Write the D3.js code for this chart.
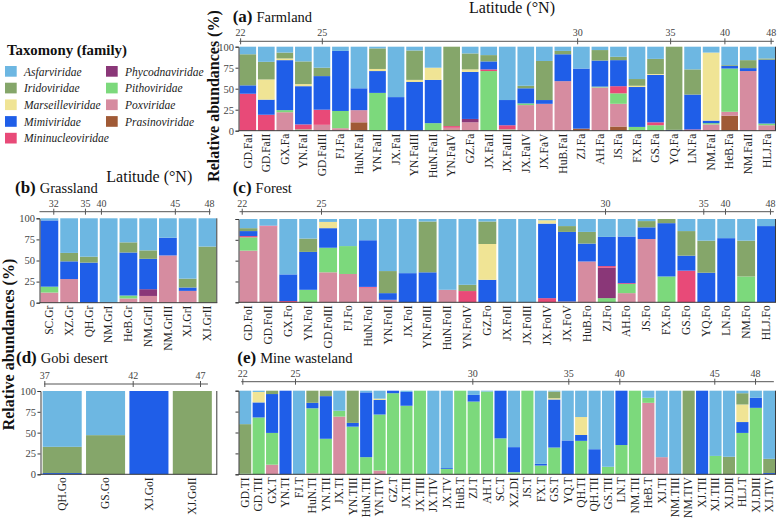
<!DOCTYPE html>
<html><head><meta charset="utf-8">
<script src="https://cdn.jsdelivr.net/npm/d3@7/dist/d3.min.js"></script>
<style>
body{margin:0;background:#fff}
svg{display:block}
text{font-family:"Liberation Serif","Times New Roman",serif}
</style>
</head><body>
<svg id="chart" width="777" height="518"></svg>
<script>
// ---------------- DATA ----------------
const legendFamilies = ["Asfarviridae","Iridoviridae","Marseilleviridae","Mimiviridae","Mininucleoviridae",
  "Phycodnaviridae","Pithoviridae","Poxviridae","Prasinoviridae"];
// stacking order, bottom -> top (value columns below follow this order)
const stackFamilies = ["Prasinoviridae","Poxviridae","Pithoviridae","Phycodnaviridae","Mininucleoviridae",
  "Mimiviridae","Marseilleviridae","Iridoviridae","Asfarviridae"];
const familyColors = ["#6db7e2","#85a66a","#f0e495","#1f5ee8","#e84a78","#8a3778","#7cd97c","#d68ca0","#a05a36"];

const yTicks = [0,25,50,75,100];

const farmlandSamples = ["GD.FaI","GD.FaII","GX.Fa","YN.FaI","GD.FaIII","FJ.Fa","HuN.FaI","YN.FaII","JX.FaI","YN.FaIII",
  "HuN.FaII","YN.FaIV","GZ.Fa","JX.FaII","JX.FaIII","JX.FaIV","JX.FaV","HuB.FaI","ZJ.Fa","AH.Fa","JS.Fa","FX.Fa",
  "GS.Fa","YQ.Fa","LN.Fa","NM.FaI","HeB.Fa","NM.FaII","HLJ.Fa"];
const farmlandValues = [
  [0,0,0,0,44,10,0,37,9],[0,0,0,0,19,18,24,21,18],[0,22,2.5,0,0,59.5,2,7,7],[0,0,1.5,0,6,45.5,2.5,27,17.5],
  [0,7,0,0,18,40,0,10,25],[0,3,20.5,0,0,71.5,0,0,5],[10,14.5,0,0,0,26,0,0,49.5],[0,0,45,0,0,26,2.5,24.5,2],
  [0,0,0,0,0,40,0,0,60],[0,0,0,0,0,58,2.5,35,4.5],[0,0,9,0,0,51.5,14.5,0,25],[1.5,2,0,0,2,0,0,94.5,0],
  [0,10,0,4,0,56,3,19,8],[0,0,71,0,2,9.5,0,7.5,10],[0,0,1.5,0,5,30,0,0,63.5],[0,30.5,2,0,0,18,0,3,46.5],
  [0,32,0,0,0,4.5,0,46.5,17],[0,59,0,0,0,32,0,4,5],[2.5,0,0,0,0,71.5,0,0,26],[0,51.5,1,0,0,31,0,12.5,4],
  [5,27,12.5,0,8.5,31,0,4,12],[0,0,4.5,0,0,47.5,1.5,8,38.5],[0,0,6.5,0,3.5,56.5,1,18,14.5],[0,0,0,0,0,1,0,99,0],
  [0,0,0,0,1.5,41.5,0,30,27],[0,7.5,1.5,0,0,3,81,0,7],[18,4.5,51.5,0,0,3,0,1,22],[0,71,0,0,0,3.5,0,9.5,16],
  [0,6.5,2,0,0,76,0,1.5,14]];
const farmlandLat = [22,25,30,35,40,48];

const grasslandSamples = ["SC.Gr","XZ.Gr","QH.Gr","NM.GrI","HeB.Gr","NM.GrII","NM.GrIII","XJ.GrI","XJ.GrII"];
const grasslandValues = [
  [0,12,7,0,0,78.5,0,0,2.5],[0,28,0,0,0,21,0,10,41],[0,0,0,0,0,47.5,0,7,45.5],[0,0,0,0,0,0,0,0,100],
  [0,5,3.5,0,0,51,0,12,28.5],[0,8,0,8,0,36,0,10,38],[0,56,0,0,0,21,0,0,23],[0,14,0,0,0,4,0,10.5,71.5],
  [0,0,0,0,0,0,0,66.5,33.5]];
const grasslandLat = [32,35,40,45,48];

const forestSamples = ["GD.FoI","GD.FoII","GX.Fo","YN.FoI","GD.FoIII","FJ.Fo","HuN.FoI","YN.FoII","JX.FoI","YN.FoIII",
  "HuN.FoII","YN.FoIV","GZ.Fo","JX.FoII","JX.FoIII","JX.FoIV","JX.FoV","HuB.Fo","ZJ.Fo","AH.Fo","JS.Fo","FX.Fo",
  "GS.Fo","YQ.Fo","LN.Fo","NM.Fo","HLJ.Fo"];
const forestValues = [
  [0,62,16,0,1.5,6,0,3.5,11],[0,91,0,0,1,0,0,0,8],[0,0,0,0,1.5,32,0,0,66.5],[0,0,15,0,0,45.5,0,16,23.5],
  [0,36,29.5,0,0,23.5,7.5,0,3.5],[0,34,33.5,0,0,0,0,0,32.5],[0,17.5,0,0,1,56,0,0,25.5],[0,3,0,0,0,8,0,26.5,62.5],
  [0,0,0,0,0,35,0,0,65],[0,0,0,0,0,36,0,61,3],[0,15,0,0,0,0,0,0,85],[0,0,0,0,13.5,0,0,7.5,79],
  [0,0,0,0,0,27,43,27,3],[0,0,0,0,0,0,0,0,100],[0,0,0,0,0,0,0,0,100],[0,0,0,0,5,89.5,4,0,1.5],
  [0,1,0,0,0,83.5,0,7,8.5],[0,49,0,0,0,21.5,0,14,15.5],[0,0,5,36.5,2,35,0,0,21.5],[0,11,11,0,1,56,0,0,21],
  [0,76,0,0,0,14,0,7.5,2.5],[0,0,31,0,0,64,0,5,0],[0,0,0,0,38,18,0,29.5,14.5],[0,0,0,0,0,35.5,0,38.5,26],
  [0,0,0,0,0,77,0,0,23],[0,0,31,0,0,0,0,43,26],[0,0,0,0,0,91.5,0,0,8.5]];
const forestLat = [22,25,30,35,40,48];

const gobiSamples = ["QH.Go","GS.Go","XJ.GoI","XJ.GoII"];
const gobiValues = [[0,0,0,0,0,1.5,0,31.5,67],[0,0,0,0,0,0,0,47,53],[0,0,0,0,0,100,0,0,0],[0,0,0,0,0,0,0,100,0]];
const gobiLat = [37,42,47];

const mineSamples = ["GD.TI","GD.TII","GX.T","YN.TI","FJ.T","HuN.TI","YN.TII","JX.TI","YN.TIII","HuN.TII","YN.TIV",
  "GZ.T","JX.TII","JX.TIII","JX.TIV","JX.TV","HuB.T","ZJ.T","AH.T","SC.T","XZ.DI","JS.T","FX.T","GS.T","YQ.T",
  "QH.TI","QH.TII","GS.TII","LN.T","NM.TII","HeB.T","XJ.TI","NM.TIII","NM.TIV","XJ.TII","XJ.TIII","XJ.DII",
  "HLJ.T","XJ.DIII","XJ.TIV"];
const mineValues = [
  [0,0,1,0,0,0,0,59,40],[0,0,68,0,0,18,12.5,0,1.5],[0,11.5,38,0,0,46.5,0,4,0],[0,0,0,0,0,100,0,0,0],
  [0,0,0,0,0,0,0,0,100],[0,1,78,0,0,6.5,0,14.5,0],[0,0,42.5,0,0,51,0,6.5,0],[0,69,7,0,0,0,0,0,24],
  [0,0,57,0,0,4.5,0,38.5,0],[0,0,20.5,0,0,77.5,0,0,2],[0,4.5,67,0,0,17.5,1.5,0,9.5],[0,0,97,0,0,3,0,0,0],
  [0,0.5,81.5,0,0,16.5,0,0,1.5],[0,0,100,0,0,0,0,0,0],[0,0,0,0,0,0,0,0,100],[0,0,6.5,0,0,1,0,0,92.5],
  [0,0,100,0,0,0,0,0,0],[0,0,87,0,0,8,0,0,5],[0,0,99,0,0,0,0,0,1],[0,0,43,0,0,57,0,0,0],
  [0,0,2.5,0,0,30,0,0,67.5],[0,0,100,0,0,0,0,0,0],[0,0,10.5,0,0,2,0,0,87.5],[0,0,32,0,0,57.5,1.5,8,1],
  [0,0,0,0,0,40.5,0,0,59.5],[0,0,40,0,0,7,21.5,0,31.5],[0,0,0,0,0,30,0,0,70],[0,0,9,0,0,0,0,0,91],
  [0,0,35,0,0,65,0,0,0],[0,0,100,0,0,0,0,0,0],[0,85.5,6,0,0,0,0,0,8.5],[0,20.5,0,0,0,0,0,0,79.5],
  [0,0,0,0,0,0,0,0,100],[0,0,0,0,0,0,0,100,0],[0,0,0,0,0,100,0,0,0],[0,0,22,0,0,0,0,0,78],
  [0,0,0,0,0,0,0,21,79],[0,0,49.5,0,0,13,21,13.5,3],[0,0,79.5,0,0,12,0,0,8.5],[0,0,0,0,0,1.5,0,17,81.5]];
const mineLat = [22,25,30,35,40,45,48];

// ---------------- LAYOUT ----------------
const panels = [
  {key:"a", name:"Farmland", samples:farmlandSamples, values:farmlandValues, lat:farmlandLat,
   latFrac:[0.003,0.155,0.630,0.803,0.904,0.990], lineFrac:[0.0015,0.996],
   x0:238.5, x1:776, bandEnd:776, yTop:46.7, yBot:130.7, latY:41.3, tx:232.7, ty:22, yLabels:true},
  {key:"b", name:"Grassland", samples:grasslandSamples, values:grasslandValues, lat:grasslandLat,
   latFrac:[0.0775,0.2556,0.3455,0.7612,0.9539], lineFrac:[0,0.962],
   x0:39.5, x1:217.3, bandEnd:217.3, yTop:218.3, yBot:302.7, latY:211.7, tx:15, ty:193.3, yLabels:true},
  {key:"c", name:"Forest", samples:forestSamples, values:forestValues, lat:forestLat,
   latFrac:[0.006,0.1535,0.6819,0.8647,0.9051,0.9888], lineFrac:[0.002,0.996],
   x0:238.5, x1:776, bandEnd:776, yTop:219, yBot:302.3, latY:211.7, tx:232.7, ty:193.3, yLabels:false},
  {key:"d", name:"Gobi desert", samples:gobiSamples, values:gobiValues, lat:gobiLat,
   latFrac:[0.0215,0.5215,0.9022], lineFrac:[0.0198,0.947],
   x0:40.5, x1:217.3, bandEnd:214, yTop:391, yBot:474.3, latY:384, tx:16, ty:363, yLabels:true},
  {key:"e", name:"Mine wasteland", samples:mineSamples, values:mineValues, lat:mineLat,
   latFrac:[0.0071,0.1051,0.435,0.6136,0.7085,0.8852,0.961], lineFrac:[0.005,0.996],
   x0:238.5, x1:776, bandEnd:776, yTop:390.7, yBot:474.3, latY:381.7, tx:237.3, ty:363.3, yLabels:false}
];

const svg = d3.select("#chart");
const color = d3.scaleOrdinal().domain(legendFamilies).range(familyColors);
const axisColor = "#3a3a3a";

function drawPanel(p){
  const g = svg.append("g");
  const x = d3.scaleBand().domain(p.samples).range([p.x0, p.bandEnd]).paddingInner(0.1).paddingOuter(0.05);
  const y = d3.scaleLinear().domain([0,100]).range([p.yBot, p.yTop]);
  const rows = p.samples.map((s,i)=>{const o={sample:s}; stackFamilies.forEach((f,j)=>o[f]=p.values[i][j]); return o;});
  const series = d3.stack().keys(stackFamilies)(rows);
  g.append("g").selectAll("g").data(series).join("g").attr("fill", d=>color(d.key))
    .selectAll("rect").data(d=>d).join("rect")
    .attr("x", d=>x(d.data.sample)).attr("width", x.bandwidth())
    .attr("y", d=>y(d[1])).attr("height", d=>Math.max(0, y(d[0])-y(d[1])));

  // y axis
  const ya = g.append("g").attr("transform",`translate(${p.x0},0)`)
    .call(d3.axisLeft(y).tickValues(yTicks).tickSize(3).tickPadding(1.5)
      .tickFormat(p.yLabels ? d3.format("d") : ()=>""));
  ya.selectAll("path,line").attr("stroke", axisColor);
  ya.selectAll("text").attr("font-size", 10.5).attr("fill","#444")
    .style("font-family",'"Liberation Serif",serif');

  // bottom axis with rotated labels
  const xa = g.append("g").attr("transform",`translate(0,${p.yBot})`)
    .call(d3.axisBottom(x).tickSize(0).tickSizeOuter(0));
  xa.select(".domain").attr("d", `M${p.x0},0H${p.x1}`).attr("stroke", axisColor);
  xa.selectAll("text").attr("transform","rotate(-90)").attr("text-anchor","end")
    .attr("x",-3).attr("y",0).attr("dy","0.33em").attr("font-size",11.5).attr("fill","#222")
    .style("font-family",'"Liberation Serif",serif');

  // right frame
  g.append("line").attr("x1",p.x1-0.5).attr("x2",p.x1-0.5).attr("y1",p.yTop).attr("y2",p.yBot)
    .attr("stroke",axisColor);

  // latitude axis
  const w = p.x1 - p.x0;
  const lat = d3.scaleLinear().domain(p.lat).range(p.latFrac.map(f=>p.x0 + f*w));
  const la = g.append("g").attr("transform",`translate(0,${p.latY})`)
    .call(d3.axisTop(lat).tickValues(p.lat).tickSize(3).tickPadding(2).tickSizeOuter(0).tickFormat(d3.format("d")));
  la.select(".domain").attr("d", `M${p.x0 + p.lineFrac[0]*w},0H${p.x0 + p.lineFrac[1]*w}`).attr("stroke","#555");
  la.selectAll(".tick line").attr("y1",3).attr("y2",-3).attr("stroke","#555");
  la.selectAll("text").attr("font-size",10).attr("fill","#444").style("font-family",'"Liberation Serif",serif');

  // title
  const t = g.append("text").attr("x",p.tx).attr("y",p.ty).attr("fill","#111");
  t.append("tspan").attr("font-weight","bold").attr("font-size",17).text(`(${p.key})`);
  t.append("tspan").attr("font-size",14.5).attr("dx",4).text(p.name);
}
panels.forEach(drawPanel);

// Latitude titles
[[512,13],[149.3,181.7]].forEach(([cx,cy])=>{
  svg.append("text").attr("x",cx).attr("y",cy).attr("text-anchor","middle").attr("font-size",16)
    .attr("fill","#111").text("Latitude (°N)");
});

// Y titles
[[219,96],[14,344.5]].forEach(([bx,cy])=>{
  svg.append("text").attr("transform",`translate(${bx},${cy}) rotate(-90)`).attr("text-anchor","middle")
    .attr("font-size",16).attr("font-weight","bold").attr("fill","#111").text("Relative abundances (%)");
});

// Legend
const lg = svg.append("g");
lg.append("text").attr("x",7).attr("y",55).attr("font-size",14.8).attr("font-weight","bold").attr("fill","#111")
  .text("Taxomony (family)");
legendFamilies.forEach((f,i)=>{
  const col = i < 5 ? 0 : 1, row = i < 5 ? i : i-5;
  const gx = col===0 ? 5 : 106, gy = 66 + row*16.7;
  lg.append("rect").attr("x",gx).attr("y",gy).attr("width",11.7).attr("height",10.7).attr("fill",color(f));
  lg.append("text").attr("x",gx+19).attr("y",gy+9.5).attr("font-size",11.5).attr("font-style","italic")
    .attr("fill","#222").text(f);
});
</script>
</body></html>
